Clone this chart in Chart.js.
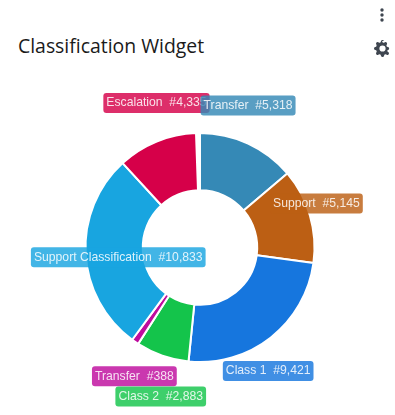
<!DOCTYPE html>
<html>
<head>
<meta charset="utf-8">
<title>Classification Widget</title>
<script src="https://cdn.jsdelivr.net/npm/chart.js@4"></script>
<style>
    html, body { margin: 0; padding: 0; background: #fff; }
    #widget { position: relative; width: 395px; height: 415px; overflow: hidden; }
    #title { position: absolute; left: 18px; top: 32px; font: 19.4px "Open Sans", sans-serif; color: #1a1a1a; }
    #menu { position: absolute; left: 379px; top: 8px; }
    #gear { position: absolute; left: 374px; top: 40px; }
    canvas { position: absolute; left: 0; top: 0; }
</style>
</head>
<body>
<div id="widget">
    <div id="title">Classification Widget</div>
    <svg id="menu" width="6" height="14" viewBox="0 0 6 14" fill="#3f4650">
        <circle cx="3" cy="2" r="1.7"/><circle cx="3" cy="7" r="1.7"/><circle cx="3" cy="12" r="1.7"/>
    </svg>
    <svg id="gear" width="17" height="17" viewBox="0 0 16 16" fill="#3f4650">
        <path fill-rule="evenodd" d="M9.405 1.05c-.413-1.4-2.397-1.4-2.81 0l-.1.34a1.464 1.464 0 0 1-2.105.872l-.31-.17c-1.283-.698-2.686.705-1.987 1.987l.169.311c.446.82.023 1.841-.872 2.105l-.34.1c-1.4.413-1.4 2.397 0 2.81l.34.1a1.464 1.464 0 0 1 .872 2.105l-.17.31c-.698 1.283.705 2.686 1.987 1.987l.311-.169a1.464 1.464 0 0 1 2.105.872l.1.34c.413 1.4 2.397 1.4 2.81 0l.1-.34a1.464 1.464 0 0 1 2.105-.872l.31.17c1.283.698 2.686-.705 1.987-1.987l-.169-.311a1.464 1.464 0 0 1-.872-2.105l.34-.1c1.4-.413 1.4-2.397 0-2.81l-.34-.1a1.464 1.464 0 0 1-.872-2.105l.17-.31c.698-1.283-.705-2.686-1.987-1.987l-.311.169a1.464 1.464 0 0 1-2.105-.872l-.1-.34zM8 10.93a2.929 2.929 0 1 1 0-5.86 2.929 2.929 0 0 1 0 5.858z"/>
    </svg>
    <canvas id="classificationChart" width="395" height="415"></canvas>
</div>
<script>
const categories = ['Transfer', 'Support', 'Class 1', 'Class 2', 'Transfer', 'Support Classification', 'Escalation'];
// Последняя цифра у Escalation перекрыта соседней меткой, значение примерное
const counts = [5318, 5145, 9421, 2883, 388, 10833, 4335];
const sliceColors = ['#3589b6', '#bc5f14', '#1676de', '#14c44b', '#be0c9e', '#18a5e0', '#d60049'];

// Сдвиг центра каждой метки относительно центра сектора
const labelShifts = [
    [12, -64], [34, -20], [15, 56], [-11, 68], [-17, 58], [4, 5], [-11, -65]
];

function roundedBox(ctx, x, y, w, h, r) {
    ctx.beginPath();
    ctx.roundRect(x, y, w, h, r);
    ctx.fill();
}

const outLabels = {
    id: 'outLabels',
    afterDatasetsDraw(chart) {
        const ctx = chart.ctx;
        const arcs = chart.getDatasetMeta(0).data;
        ctx.save();
        ctx.font = '12.2px "Liberation Sans", Arial, sans-serif';
        ctx.textAlign = 'center';
        ctx.textBaseline = 'middle';
        // Рисуем с конца, чтобы первая метка оказалась поверх остальных
        for (let i = arcs.length - 1; i >= 0; i--) {
            const center = arcs[i].getCenterPoint();
            const x = center.x + labelShifts[i][0];
            const y = center.y + labelShifts[i][1];
            const text = categories[i] + '  #' + counts[i].toLocaleString('en-US');
            const w = ctx.measureText(text).width + 6;
            ctx.globalAlpha = 0.82;
            ctx.fillStyle = sliceColors[i];
            roundedBox(ctx, x - w / 2, y - 10, w, 20, 3);
            ctx.globalAlpha = 0.85;
            ctx.fillStyle = '#ffffff';
            ctx.fillText(text, x, y);
        }
        ctx.restore();
    }
};

new Chart(document.getElementById('classificationChart').getContext('2d'), {
    type: 'doughnut',
    data: {
        labels: categories,
        datasets: [{
            data: counts,
            backgroundColor: sliceColors,
            borderColor: '#ffffff',
            borderWidth: 2
        }]
    },
    options: {
        responsive: false,
        animation: false,
        cutout: '50%',
        circumference: 358,
        layout: { padding: { left: 84, right: 79, top: 132, bottom: 52 } },
        plugins: {
            legend: { display: false },
            tooltip: { enabled: false }
        }
    },
    plugins: [outLabels]
});
</script>
</body>
</html>
